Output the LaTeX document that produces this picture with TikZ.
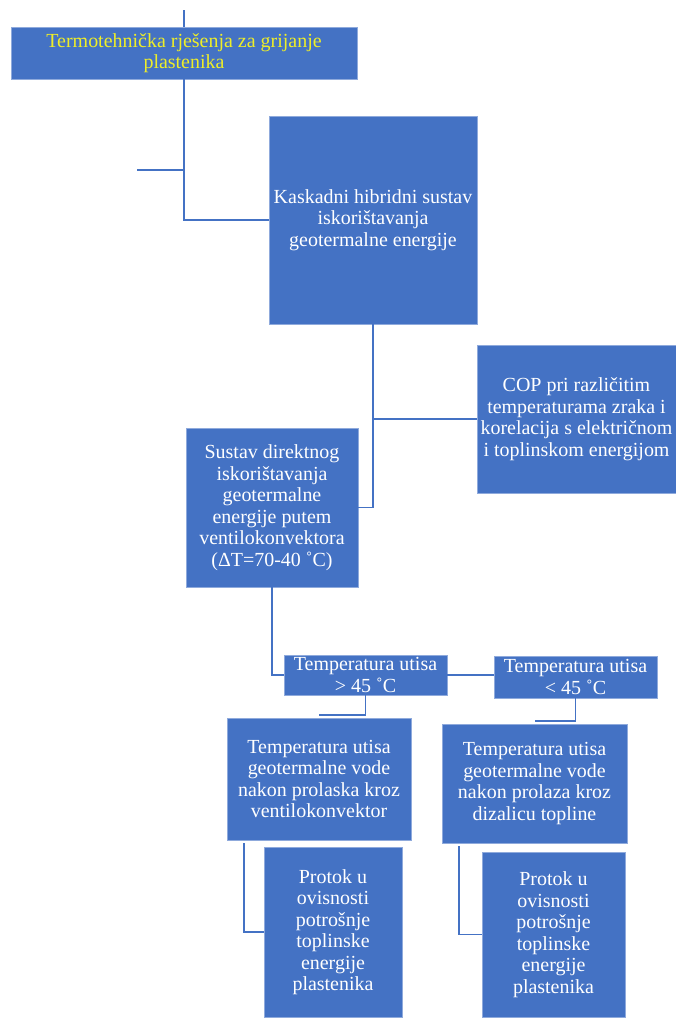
\documentclass[tikz,border=0pt]{standalone}
\usepackage{fontspec}
\setmainfont{Liberation Serif}
\usetikzlibrary{calc}
\definecolor{boxblue}{RGB}{68,114,196}
\definecolor{edgeblue}{RGB}{143,170,220}
\definecolor{titleyellow}{RGB}{238,238,40}
\tikzset{box/.style={draw=edgeblue, line width=0.5pt, fill=boxblue, text=white, align=center, inner sep=0pt,
                     font=\fontsize{14.2}{15.3}\selectfont},
         sz/.style 2 args={minimum width=#1*0.025cm, minimum height=#2*0.025cm},
         link/.style={draw=boxblue, line width=1.4pt}}

\begin{document}
\begin{tikzpicture}[x=0.025cm, y=-0.025cm]
   \useasboundingbox (0,0) rectangle (676,1019);
    \node[box, sz={346}{52}, text=titleyellow] (t1) at (184,53) {Termotehnička rješenja za grijanje\\plastenika};
    \node[box, sz={208}{208}] (k)   at (373,220)   {Kaskadni hibridni sustav\\iskorištavanja\\geotermalne energije};
    \node[box, sz={199}{148}] (cop) at (576.5,419) {COP pri različitim\\temperaturama zraka i\\korelacija s električnom\\i toplinskom energijom};
    \node[box, sz={172}{159}] (sus) at (272,507.5) {Sustav direktnog\\iskorištavanja\\geotermalne\\energije putem\\ventilokonvektora\\(ΔT=70-40 ˚C)};
    \node[box, sz={163}{40}]  (gt)  at (365.5,675) {Temperatura utisa\\> 45 ˚C};
    \node[box, sz={163}{42}]  (lt)  at (575.5,677) {Temperatura utisa\\< 45 ˚C};
    \node[box, sz={184}{122}] (vk)  at (319,779)   {Temperatura utisa\\geotermalne vode\\nakon prolaska kroz\\ventilokonvektor};
    \node[box, sz={185}{119}] (dt)  at (534.5,783.5) {Temperatura utisa\\geotermalne vode\\nakon prolaza kroz\\dizalicu topline};
    \node[box, sz={138}{170}] (pv)  at (333,932)   {Protok u\\ovisnosti\\potrošnje\\toplinske\\energije\\plastenika};
    \node[box, sz={143}{165}] (pd)  at (553.5,934.5) {Protok u\\ovisnosti\\potrošnje\\toplinske\\energije\\plastenika};
    \coordinate (top)  at (184,10);
    \coordinate (stub) at (137,170);
    \draw[link] (top) -- (t1.north);
    \draw[link] (t1.south) |- (k.west);
    \draw[link] (stub) -- (stub -| t1.south);
    \draw[link] (k.south) |- (cop.west);
    \draw[link] (k.south) |- (sus.east);
    \draw[link] (sus.south) |- (gt.west);
    \draw[link] (gt.east) -- (gt.east -| lt.west);
    \draw[link] (gt.south) |- ($(vk.north)+(0,-3)$);
    \draw[link] (lt.south) |- ($(dt.north)+(0,-3)$);
    \draw[link] ($(vk.south west)+(17,3)$) |- (pv.west);
    \draw[link] ($(dt.south west)+(17,3)$) |- (pd.west);
  \end{tikzpicture}
\end{document}
